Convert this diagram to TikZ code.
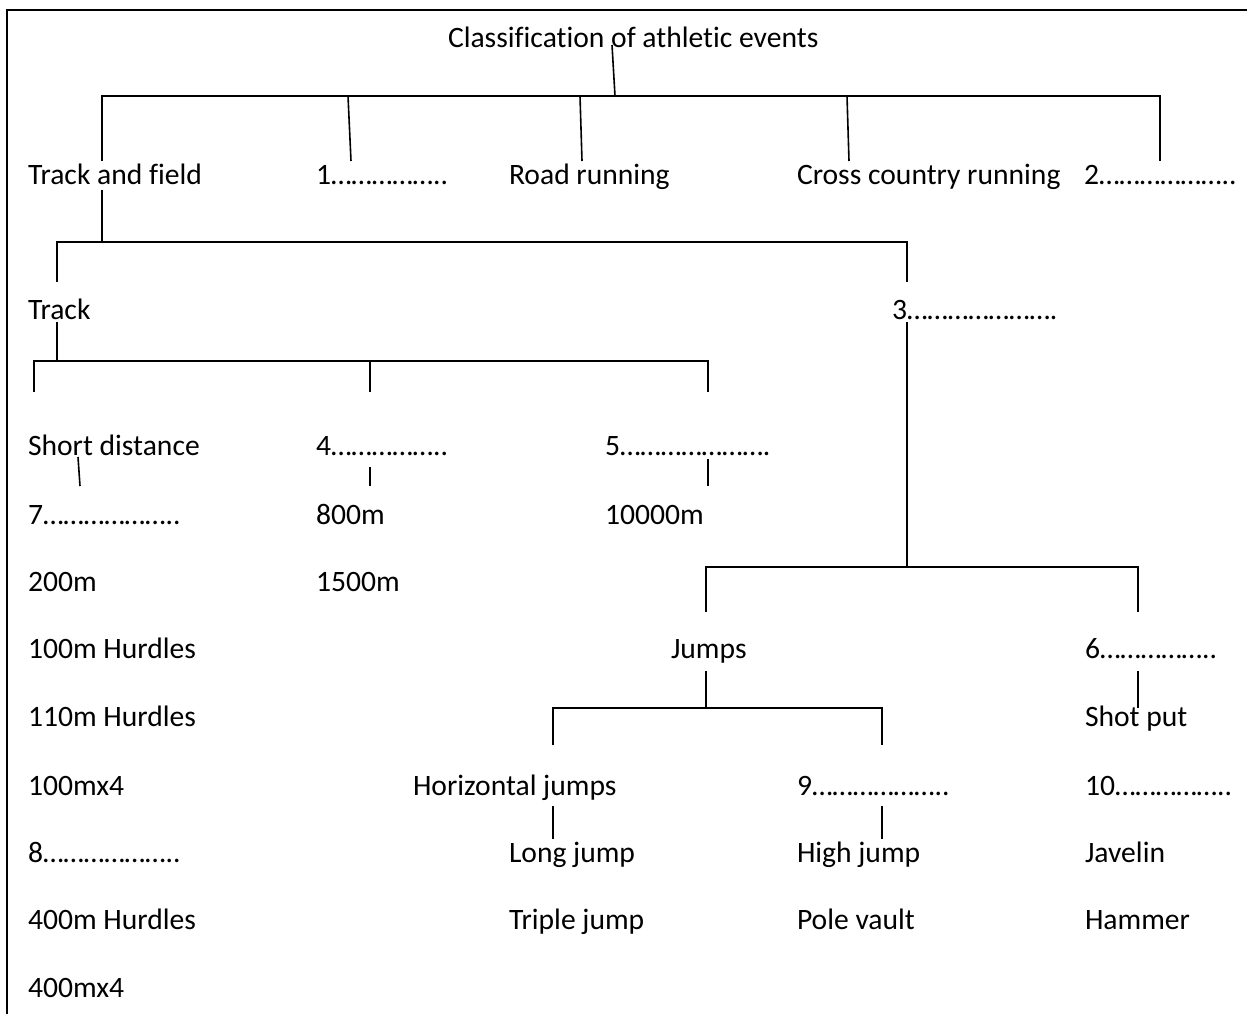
\documentclass[tikz,border=0pt]{standalone}
\usepackage{fontspec}
\setmainfont{Carlito}[Ligatures=NoCommon]
\begin{document}
\begin{tikzpicture}[x=1pt,y=-1pt,
  lbl/.style={anchor=base west,inner sep=0pt,outer sep=0pt,font=\fontsize{29.6}{34}\selectfont},
  conn/.style={line width=1.6pt},
  frame/.style={line width=2.2pt}]
\useasboundingbox (0,0) rectangle (1247,1014);
\draw[frame] (7,1014) -- (7,10) -- (1247,10);

% texts
\node[lbl] (title) at (448,48) {Classification of athletic events};
\node[lbl] (tf) at (28,184) {Track and field};
\node[lbl] (n1) at (316,184) {1……………..};
\node[lbl] (road) at (509,184) {Road running};
\node[lbl] (cross) at (797,184) {Cross country running};
\node[lbl] (n2) at (1084,184) {2………………..};
\node[lbl] (track) at (28,319) {Track};
\node[lbl] (n3) at (892,319) {3{………}{………}{…}.};
\node[lbl] (short) at (28,455) {Short distance};
\node[lbl] (n4) at (316,455) {4……………..};
\node[lbl] (n5) at (605,455) {5{………}{………}{…}.};
\node[lbl] (n7) at (28,524) {7………………..};
\node[lbl] (m800) at (316,524) {800m};
\node[lbl] (m10000) at (605,524) {10000m};
\node[lbl] (m200) at (28,591) {200m};
\node[lbl] (m1500) at (316,591) {1500m};
\node[lbl] (h100) at (28,658) {100m Hurdles};
\node[lbl] (jumps) at (671,658) {Jumps};
\node[lbl] (n6) at (1085,658) {6……………..};
\node[lbl] (h110) at (28,726) {110m Hurdles};
\node[lbl] (shot) at (1085,726) {Shot put};
\node[lbl] (r100) at (28,795) {100mx4};
\node[lbl] (hjumps) at (413,795) {Horizontal jumps};
\node[lbl] (n9) at (797,795) {9………………..};
\node[lbl] (n10) at (1085,795) {10……………..};
\node[lbl] (n8) at (28,862) {8………………..};
\node[lbl] (long) at (509,862) {Long jump};
\node[lbl] (high) at (797,862) {High jump};
\node[lbl] (jav) at (1085,862) {Javelin};
\node[lbl] (h400) at (28,929) {400m Hurdles};
\node[lbl] (triple) at (509,929) {Triple jump};
\node[lbl] (pole) at (797,929) {Pole vault};
\node[lbl] (hammer) at (1085,929) {Hammer};
\node[lbl] (r400) at (28,997) {400mx4};

% junction coordinates
\coordinate (a0) at (612,45);
\coordinate (a1) at (615,96);
\coordinate (aL) at (102,96);
\coordinate (aR) at (1160,96);
\coordinate (b1t) at (348,96);  \coordinate (b1b) at (351,161);
\coordinate (b2t) at (580,96);  \coordinate (b2b) at (582,161);
\coordinate (b3t) at (847,96);  \coordinate (b3b) at (849,161);
\coordinate (b0b) at (102,161);
\coordinate (b4b) at (1160,161);

\coordinate (c0) at (102,190);
\coordinate (c1) at (102,242);
\coordinate (cL) at (57,242);
\coordinate (cR) at (907,242);
\coordinate (cLb) at (57,282);
\coordinate (cRb) at (907,282);

\coordinate (d0) at (57,322);
\coordinate (d1) at (57,361);
\coordinate (dL) at (34,361);
\coordinate (dM) at (370,361);
\coordinate (dR) at (708,361);
\coordinate (dLb) at (34,392);
\coordinate (dMb) at (370,392);
\coordinate (dRb) at (708,392);

\coordinate (e1t) at (78,457); \coordinate (e1b) at (80,486);
\coordinate (e2t) at (370,467); \coordinate (e2b) at (370,486);
\coordinate (e3t) at (708,459); \coordinate (e3b) at (708,486);

\coordinate (f0) at (907,322);
\coordinate (f1) at (907,567);
\coordinate (fL) at (706,567);
\coordinate (fR) at (1138,567);
\coordinate (fLb) at (706,612);
\coordinate (fRb) at (1138,612);

\coordinate (g0) at (706,671);
\coordinate (g1) at (706,708);
\coordinate (gL) at (553,708);
\coordinate (gR) at (882,708);
\coordinate (gLb) at (553,745);
\coordinate (gRb) at (882,745);
\coordinate (s0) at (1138,671); \coordinate (s1) at (1138,708);

\coordinate (h1t) at (553,806); \coordinate (h1b) at (553,839);
\coordinate (h2t) at (882,806); \coordinate (h2b) at (882,839);

% connectors
\draw[conn] (a0) -- (a1);
\draw[conn] (b0b) -- (aL) -- (aR) -- (b4b);
\draw[conn] (b1t) -- (b1b);
\draw[conn] (b2t) -- (b2b);
\draw[conn] (b3t) -- (b3b);
\draw[conn] (c0) -- (c1);
\draw[conn] (cLb) -- (cL) -- (cR) -- (cRb);
\draw[conn] (d0) -- (d1);
\draw[conn] (dLb) -- (dL) -- (dR) -- (dRb);
\draw[conn] (dM) -- (dMb);
\draw[conn] (e1t) -- (e1b);
\draw[conn] (e2t) -- (e2b);
\draw[conn] (e3t) -- (e3b);
\draw[conn] (f0) -- (f1);
\draw[conn] (fLb) -- (fL) -- (fR) -- (fRb);
\draw[conn] (g0) -- (g1);
\draw[conn] (gLb) -- (gL) -- (gR) -- (gRb);
\draw[conn] (s0) -- (s1);
\draw[conn] (h1t) -- (h1b);
\draw[conn] (h2t) -- (h2b);
\end{tikzpicture}
\end{document}
